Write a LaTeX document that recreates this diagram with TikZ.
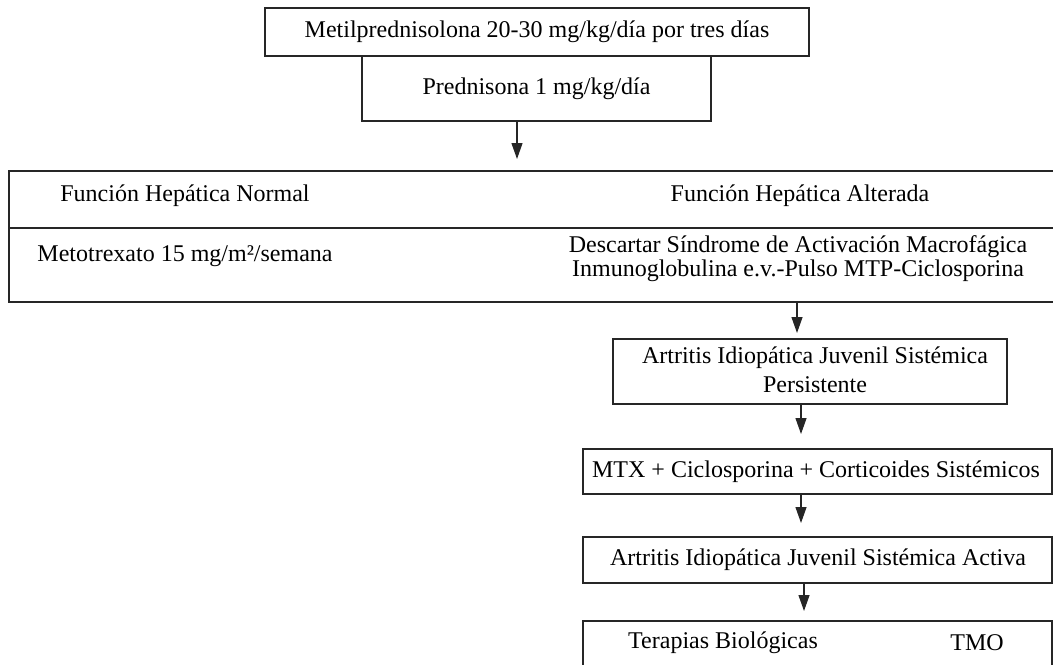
\documentclass[tikz,border=0pt]{standalone}
\usepackage{fontspec}
\setmainfont{Liberation Serif}
\usetikzlibrary{arrows.meta,fit}
\begin{document}
\begin{tikzpicture}[x=0.5pt,y=-0.5pt,
  box/.style={draw=black!85, line width=0.6pt, inner sep=0pt, outer sep=0pt},
  lbl/.style={font=\fontsize{12}{12}\selectfont, inner sep=0pt, align=center},
  arr/.style={draw=black!85, line width=0.6pt, -{Triangle[length=8pt,width=5.5pt]}}]
\useasboundingbox (0,0) rectangle (1053,664);
\clip (0,0) rectangle (1053,664);

% induction
\node[box, fit={(265,8) (809,56)}] (mp) {};
\node[lbl] (mpT) at (mp) {Metilprednisolona 20-30 mg/kg/día por tres días};
\node[box, fit={(362,56) (711,121)}] (pred) {};
\node[lbl] (predT) at (pred) {Prednisona 1 mg/kg/día};

% liver function table
\node[box, fit={(9,171) (1070,302)}] (liver) {};
\coordinate (div) at (0,228);
\draw[draw=black!85, line width=0.6pt] (liver.west |- div) -- (liver.east |- div);
\node[lbl] (normal) at (185,196) {Función Hepática Normal};
\node[lbl] (altered) at (800,196) {Función Hepática Alterada};
\node[lbl] (mtx15) at (185,256) {Metotrexato 15 mg/m²/semana};
\node[lbl] (sam) at (798,259)
  {Descartar Síndrome de Activación Macrofágica\\Inmunoglobulina e.v.-Pulso MTP-Ciclosporina};

% right-hand pathway
\node[box, fit={(613,339) (1007,404)}] (pers) {};
\node[lbl, font=\fontsize{12}{14.5}\selectfont] (persT) at (815,370)
  {Artritis Idiopática Juvenil Sistémica\\Persistente};
\node[box, fit={(583,449) (1052,494)}] (combo) {};
\node[lbl] (comboT) at (816,472) {MTX + Ciclosporina + Corticoides Sistémicos};
\node[box, fit={(583,537) (1052,583)}] (act) {};
\node[lbl] (actT) at (818,560) {Artritis Idiopática Juvenil Sistémica Activa};
\node[box, fit={(583,621) (1052,690)}] (bio) {};
\node[lbl] (bioT) at (723,643) {Terapias Biológicas};
\node[lbl] (tmo) at (977,643) {TMO};

% arrows
\coordinate (a1) at (517,159);
\coordinate (a2) at (797,333);
\coordinate (a3) at (801,434);
\coordinate (a4) at (801,523);
\coordinate (a5) at (804,611);
\draw[arr] (pred.south -| a1) -- (a1);
\draw[arr] (liver.south -| a2) -- (a2);
\draw[arr] (pers.south -| a3) -- (a3);
\draw[arr] (combo.south -| a4) -- (a4);
\draw[arr] (act.south -| a5) -- (a5);
\end{tikzpicture}
\end{document}
